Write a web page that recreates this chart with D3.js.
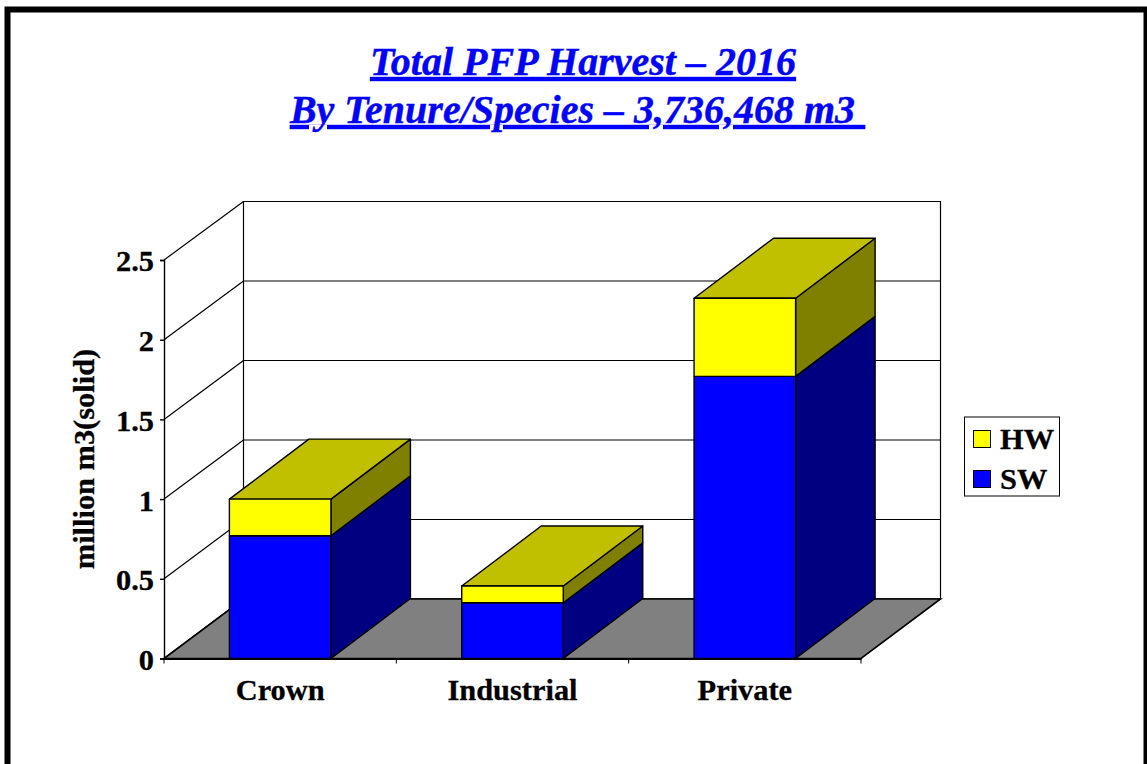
<!DOCTYPE html>
<html><head><meta charset="utf-8">
<script src="https://cdn.jsdelivr.net/npm/d3@7"></script>
<style>html,body{margin:0;padding:0;background:#fff;overflow:hidden}svg{display:block}text{font-family:"Liberation Serif","Times New Roman",serif}</style>
</head><body><svg id="c" width="1147" height="764"></svg>
<script>
const categories = ["Crown", "Industrial", "Private"];
const swValues = [0.77, 0.35, 1.77];
const hwValues = [0.23, 0.105, 0.49];
const yTicks = [0, 0.5, 1, 1.5, 2, 2.5];
const seriesNames = ["HW", "SW"];
const titleLines = ["Total PFP Harvest – 2016", "By Tenure/Species – 3,736,468 m3 "];
const yAxisTitle = "million m3(solid)";

const svg = d3.select("#c");
const ox = 79.5, oy = -60;            // depth of the 3D box
const x = d3.scaleBand().domain(categories).range([164, 861]).paddingInner(0.563).paddingOuter(0.2815);
const y = d3.scaleLinear().domain([0, 2.5]).range([658.5, 260]);
const yBack = d3.scaleLinear().domain([0, 2.5]).range([599, 201.5]);
const ink = "#000";
const labelSize = 30.4;
const pts = a => a.map(p => p.join(",")).join(" ");
const heavy = sel => sel.attr("stroke", ink).attr("stroke-width", 0.3);

// outer frame
svg.append("path").attr("d", "M7.5,764V9.5H1146.5V764").attr("fill", "none").attr("stroke", ink).attr("stroke-width", 6);

// title
const ttl = svg.append("g").attr("fill", "#0000ff").attr("stroke", "#0000ff").attr("stroke-width", 0.4)
  .attr("font-weight", "bold").attr("font-style", "italic")
  .attr("font-size", 40).attr("text-anchor", "middle").attr("text-decoration", "underline");
ttl.selectAll("text").data(titleLines).join("text")
  .attr("x", (d, i) => i ? 577.5 : 583).attr("y", (d, i) => 75 + i * 48)
  .style("white-space", "pre").text(d => d);

// walls
const x0 = x.range()[0], x1 = x.range()[1];
const g = svg.append("g").attr("stroke", ink).attr("stroke-width", 1.2);
g.append("polygon").attr("points", pts([[x0 + ox, yBack(0)], [x1 + ox, yBack(0)], [x1 + ox, yBack(2.5)], [x0 + ox, yBack(2.5)]]))
  .attr("fill", "#fff");
g.selectAll("line.back").data(yTicks).join("line").attr("class", "back")
  .attr("x1", x0 + ox).attr("x2", x1 + ox).attr("y1", d => yBack(d)).attr("y2", d => yBack(d));
g.selectAll("line.side").data(yTicks).join("line").attr("class", "side")
  .attr("x1", x0).attr("x2", x0 + ox).attr("y1", d => y(d)).attr("y2", d => yBack(d));
g.append("polygon").attr("points", pts([[x0, y(0)], [x1, y(0)], [x1 + ox, yBack(0)], [x0 + ox, yBack(0)]]))
  .attr("fill", "#808080").attr("stroke-width", 1.6);

// bars
const faces = (i, lo, hi, front, side, top) => {
  const l = x(categories[i]), r = l + x.bandwidth();
  const b = y(lo), t = y(hi);
  const s = svg.append("g").attr("stroke", ink).attr("stroke-width", 1.4).attr("stroke-linejoin", "round");
  s.append("polygon").attr("fill", side).attr("points", pts([[r, b], [r + ox, b + oy], [r + ox, t + oy], [r, t]]));
  if (top) s.append("polygon").attr("fill", top).attr("points", pts([[l, t], [r, t], [r + ox, t + oy], [l + ox, t + oy]]));
  s.append("polygon").attr("fill", front).attr("points", pts([[l, b], [r, b], [r, t], [l, t]]));
};
categories.forEach((c, i) => {
  faces(i, 0, swValues[i], "#0000ff", "#000080", null);
  faces(i, swValues[i], swValues[i] + hwValues[i], "#ffff00", "#808000", "#c0c000");
});

// y axis
const yAx = svg.append("g").attr("transform", `translate(${x0},0)`)
  .call(d3.axisLeft(y).tickValues(yTicks).tickSize(4).tickPadding(6).tickFormat(d => String(d)));
yAx.selectAll("path,line").attr("stroke", ink).attr("stroke-width", 1.4);
yAx.selectAll("text").attr("font-size", labelSize).attr("font-weight", "bold").attr("font-family", null).attr("fill", ink)
  .attr("dy", "0.36em").call(heavy);

// x axis
const xAx = svg.append("g").attr("transform", `translate(0,${y(0)})`)
  .call(d3.axisBottom(x).tickSize(0).tickPadding(20));
xAx.select("path").attr("stroke", ink).attr("stroke-width", 2);
xAx.selectAll("text").attr("font-size", labelSize).attr("font-weight", "bold").attr("font-family", null).attr("fill", ink).call(heavy);
xAx.selectAll("line.div").data(d3.range(categories.length + 1)).join("line").attr("class", "div")
  .attr("x1", i => x0 + i * x.step()).attr("x2", i => x0 + i * x.step()).attr("y1", 0).attr("y2", 5)
  .attr("stroke", ink).attr("stroke-width", 1);

// axis title
svg.append("text").attr("transform", "translate(94,459) rotate(-90)").attr("text-anchor", "middle")
  .attr("font-size", labelSize).attr("font-weight", "bold").attr("fill", ink).text(yAxisTitle).call(heavy);

// legend
const leg = svg.append("g");
leg.append("rect").attr("x", 964.5).attr("y", 417).attr("width", 95).attr("height", 79)
  .attr("fill", "#fff").attr("stroke", ink).attr("stroke-width", 1);
const legendColors = d3.scaleOrdinal().domain(seriesNames).range(["#ffff00", "#0000ff"]);
const row = leg.selectAll("g").data(seriesNames).join("g").attr("transform", (d, i) => `translate(0,${i * 40})`);
row.append("rect").attr("x", 973.5).attr("y", 430.5).attr("width", 17).attr("height", 17)
  .attr("fill", d => legendColors(d)).attr("stroke", ink).attr("stroke-width", 1);
row.append("text").attr("x", 1000).attr("y", 448.5).attr("font-size", labelSize).attr("font-weight", "bold").attr("fill", ink).text(d => d).call(heavy);
</script></body></html>
